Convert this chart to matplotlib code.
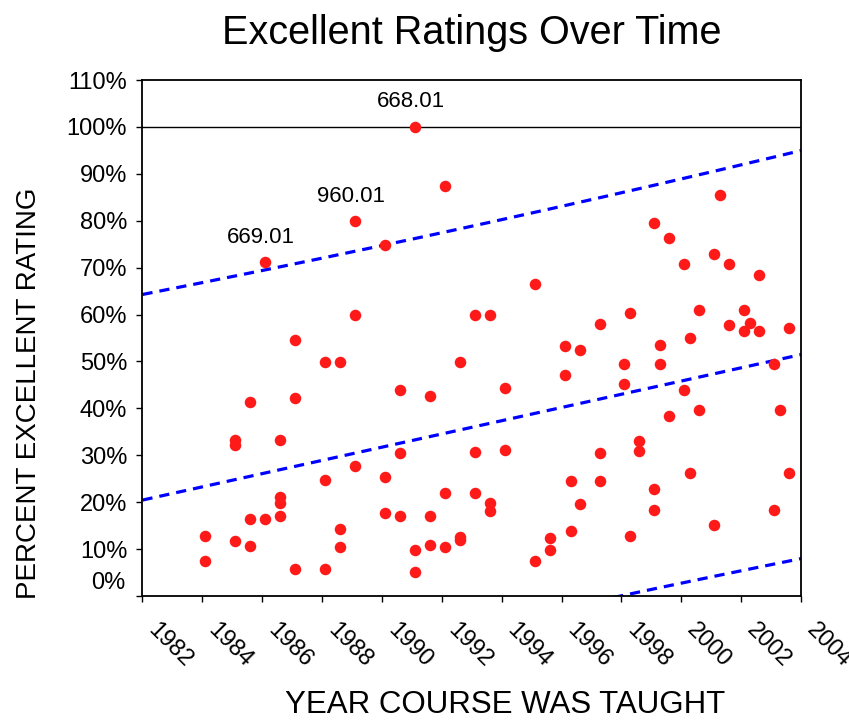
import numpy as np
import matplotlib
matplotlib.use("Agg")
import matplotlib.pyplot as plt
from matplotlib.ticker import FixedLocator
from matplotlib.transforms import ScaledTranslation

plt.rcParams['font.family'] = ['Liberation Sans', 'DejaVu Sans']

# year each course was taught (semester as fraction of year)
years = [1984.1, 1984.1,
         1985.1, 1985.1, 1985.1,
         1985.6, 1985.6, 1985.6,
         1986.1, 1986.1,
         1986.6, 1986.6, 1986.6, 1986.6,
         1987.1, 1987.1, 1987.1,
         1988.1, 1988.1, 1988.1,
         1988.6, 1988.6, 1988.6,
         1989.1, 1989.1, 1989.1,
         1990.1, 1990.1, 1990.1,
         1990.6, 1990.6, 1990.6,
         1991.1, 1991.1, 1991.1,
         1991.6, 1991.6, 1991.6,
         1992.1, 1992.1, 1992.1,
         1992.6, 1992.6, 1992.6,
         1993.1, 1993.1, 1993.1,
         1993.6, 1993.6, 1993.6,
         1994.1, 1994.1,
         1995.1, 1995.1,
         1995.6, 1995.6,
         1996.1, 1996.1,
         1996.3, 1996.3,
         1996.6, 1996.6,
         1997.3, 1997.3, 1997.3,
         1998.1, 1998.1,
         1998.3, 1998.3,
         1998.6, 1998.6,
         1999.1, 1999.1, 1999.1,
         1999.3, 1999.3,
         1999.6, 1999.6,
         2000.1, 2000.1,
         2000.3, 2000.3,
         2000.6, 2000.6,
         2001.1, 2001.1,
         2001.3,
         2001.6, 2001.6,
         2002.1, 2002.1,
         2002.3,
         2002.6, 2002.6,
         2003.1, 2003.1,
         2003.3,
         2003.6, 2003.6]

# percent of students giving an "excellent" rating
pct_excellent = [12.8, 7.5,
                 33.3, 32.1, 11.8,
                 41.4, 16.4, 10.7,
                 71.1, 16.4,
                 33.3, 21.0, 19.9, 17.0,
                 54.6, 42.3, 5.7,
                 49.8, 24.8, 5.7,
                 49.8, 14.2, 10.4,
                 79.9, 59.9, 27.7,
                 74.8, 25.4, 17.7,
                 44.0, 30.4, 17.0,
                 100.0, 9.9, 5.2,
                 42.7, 17.0, 10.9,
                 87.4, 22.0, 10.4,
                 49.9, 12.5, 12.0,
                 59.9, 30.6, 22.0,
                 59.9, 19.9, 18.1,
                 44.3, 31.2,
                 66.5, 7.5,
                 12.3, 9.7,
                 53.2, 47.2,
                 24.6, 13.8,
                 52.5, 19.7,
                 58.0, 30.4, 24.5,
                 49.5, 45.3,
                 60.4, 12.7,
                 33.1, 30.9,
                 79.5, 22.9, 18.3,
                 53.6, 49.4,
                 76.4, 38.3,
                 70.7, 44.0,
                 55.0, 26.3,
                 60.9, 39.6,
                 72.9, 15.1,
                 85.5,
                 70.7, 57.7,
                 60.9, 56.4,
                 58.1,
                 68.5, 56.4,
                 49.5, 18.3,
                 39.6,
                 57.1, 26.2]

# labelled outliers (course numbers)
note_years = [1991.1, 1989.1, 1986.1]
note_pct = [100.0, 79.9, 71.1]
note_text = ['668.01', '960.01', '669.01']

year_ticks = list(range(1982, 2005, 2))
pct_ticks = list(range(10, 111, 10))

x = np.array(years)
y = np.array(pct_excellent) / 100.0

# linear regression with 95% prediction band
n = len(x)
b1, b0 = np.polyfit(x, y, 1)
resid = y - (b0 + b1 * x)
s = np.sqrt(np.sum(resid ** 2) / (n - 2))
t = 1.985
xs = np.linspace(1982, 2004, 200)
fit = b0 + b1 * xs
half = t * s * np.sqrt(1 + 1.0 / n + (xs - x.mean()) ** 2 / np.sum((x - x.mean()) ** 2))

fig = plt.figure(figsize=(8.49, 7.21), dpi=100)
ax = fig.add_axes([0.1678, 0.1734, 0.7757, 0.7156])

ax.axhline(1.0, color='black', lw=1.0, zorder=1)
for curve in (fit, fit + half, fit - half):
    ax.plot(xs, curve, color='#0000FF', lw=2.3, dashes=(3.2, 2.2), zorder=2)
ax.plot(x, y, 'o', color='#FF1A1A', markersize=8.3, markeredgewidth=0, zorder=3)

for nx, ny, txt in zip(note_years, note_pct, note_text):
    ax.annotate(txt, (nx, ny / 100.0), xytext=(-3, 18), textcoords='offset points',
                ha='center', va='center', fontsize=16)

ax.set_xlim(1982, 2004)
ax.set_ylim(0, 1.1)
ax.xaxis.set_major_locator(FixedLocator(year_ticks))
ax.yaxis.set_major_locator(FixedLocator([0] + [v / 100.0 for v in pct_ticks]))

ax.tick_params(axis='both', direction='out', length=4, width=1, color='black')
ax.tick_params(axis='x', pad=9)
ax.tick_params(axis='y', pad=7)

ax.set_xticklabels([str(v) for v in year_ticks], rotation=-45, ha='left', va='top',
                   rotation_mode='anchor', fontsize=17)
shift = ScaledTranslation(0.17, -0.05, fig.dpi_scale_trans)
for lbl in ax.get_xticklabels():
    lbl.set_transform(lbl.get_transform() + shift)
ax.set_yticklabels([''] + ['%d%%' % v for v in pct_ticks], fontsize=17)
ax.text(-0.026, 0.025, '0%', transform=ax.transAxes, ha='right', va='center', fontsize=17)

for sp in ax.spines.values():
    sp.set_linewidth(1.3)

ax.set_xlabel('YEAR COURSE WAS TAUGHT', fontsize=22.5)
ax.xaxis.set_label_coords(0.551, -0.183)
ax.set_ylabel('PERCENT EXCELLENT RATING', fontsize=20)
ax.yaxis.set_label_coords(-0.153, 0.393)
ax.set_title('Excellent Ratings Over Time', fontsize=28.5, pad=26)

fig.savefig('out.png', dpi=100)
